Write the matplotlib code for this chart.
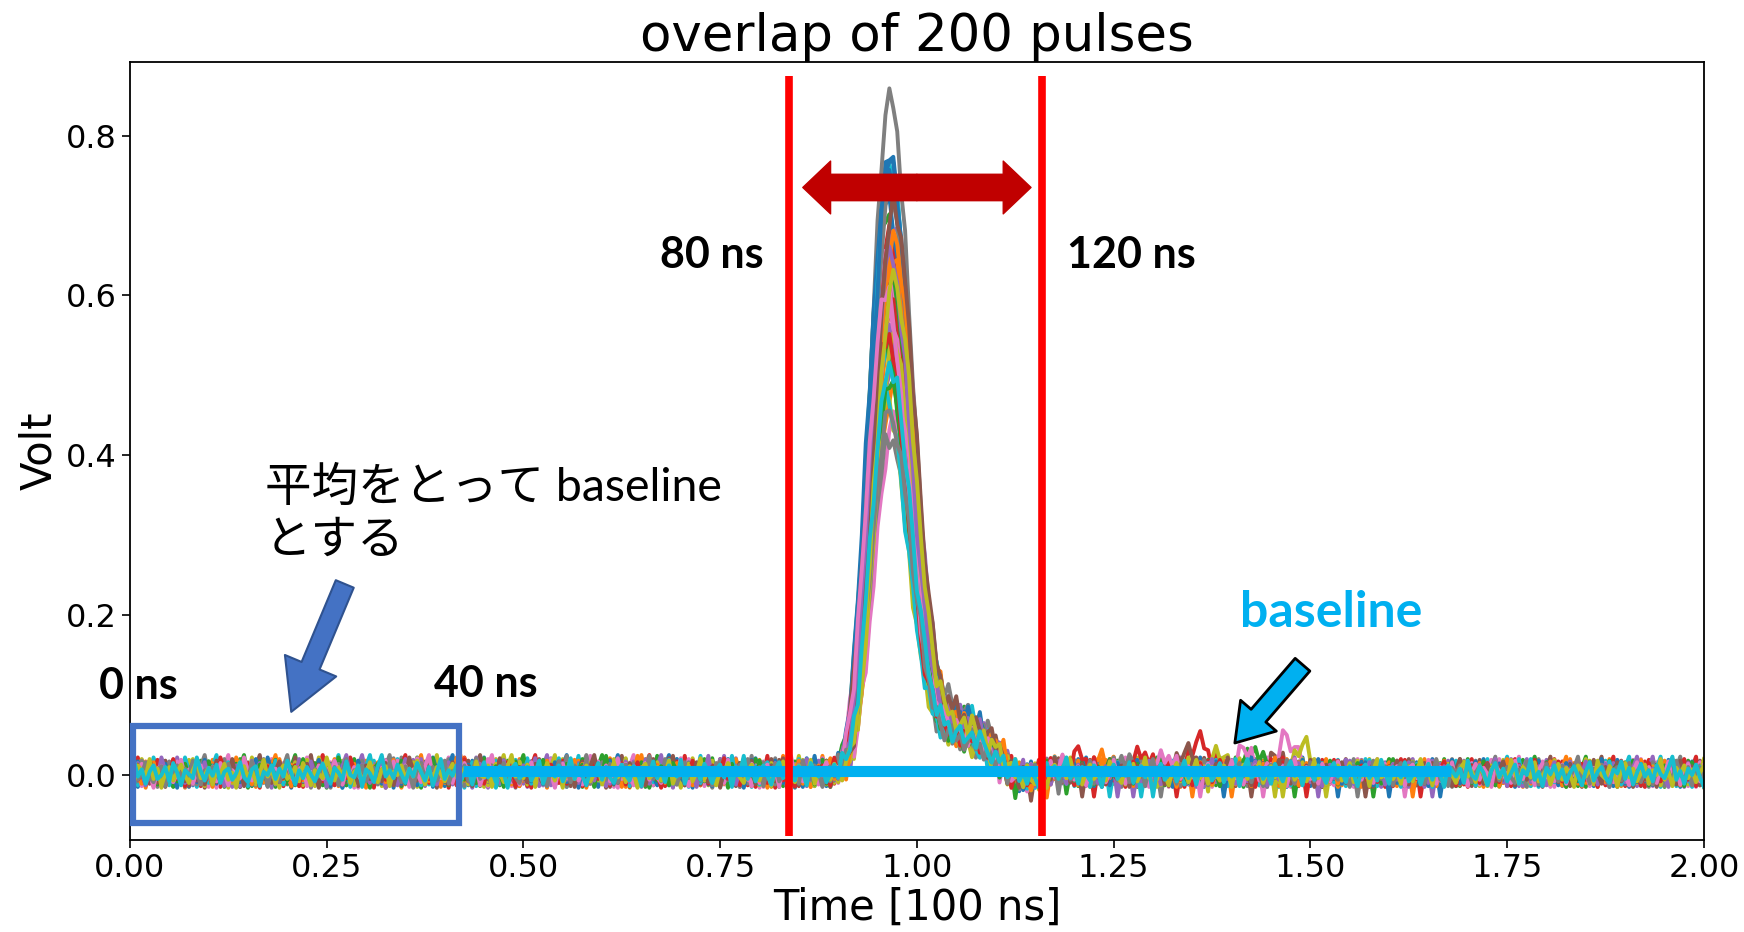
import numpy as np
import matplotlib.pyplot as plt
from matplotlib.patches import Rectangle, FancyArrowPatch

# sampling of the scope traces (time axis in units of 100 ns)
dt = 0.005
n_samples = 401

# normalised pulse template, starting at t = 0.890
pulse_start = 0.890
pulse_shape = [0.0, 0.0, 0.005, 0.015, 0.035, 0.07, 0.125, 0.2, 0.3, 0.42,
               0.55, 0.68, 0.8, 0.9, 0.97, 1.0, 0.985, 0.94, 0.87, 0.78,
               0.68, 0.58, 0.48, 0.39, 0.31, 0.25, 0.2, 0.165, 0.14, 0.125,
               0.115, 0.105, 0.1, 0.095, 0.09, 0.088, 0.085, 0.08, 0.074, 0.067,
               0.06, 0.05, 0.04, 0.03, 0.02, 0.01, 0.0, -0.004, -0.007, -0.009,
               -0.01, -0.009, -0.007, -0.005, -0.002, 0.0, 0.003, 0.006, 0.008, 0.008,
               0.006]

# peak heights [V] and timing jitter [samples] of the drawn pulses
amplitudes = [0.775, 0.60, 0.70, 0.68, 0.52, 0.58, 0.645, 0.85, 0.50, 0.545,
              0.72, 0.485, 0.62, 0.66, 0.56, 0.63, 0.44, 0.42, 0.465, 0.76,
              0.74, 0.64, 0.53, 0.59, 0.69, 0.61, 0.57, 0.73, 0.54, 0.47,
              0.77, 0.67, 0.49, 0.55, 0.65, 0.71, 0.60, 0.45, 0.62, 0.51]
shifts = [0, 1, -1, 0, 1, 0, -1, 0, 1, 0, -1, 1, 0, 0, -1, 1, 1, 0, -1, 0,
          0, 1, -1, 0, 1, -1, 0, 0, 1, -1, 0, 1, 0, -1, 0, 1, -1, 0, 1, 0]

# baseline noise [mV]
noise_mv = [
    4, -6, 9, -3, 12, 2, -9, 5, 14, -2, -11, 7, 1, 16, -5, 3, -13, 8, -1, 10,
    -7, 13, 0, -4, 18, 6, -10, 2, -15, 9, 5, -3, 11, -8, 4, 15, -6, 1, -12, 7,
    3, -9, 12, 6, -2, 20, -5, 8, -14, 2, 10, -7, 4, 13, -1, -10, 6, 17, -4, 0,
    9, -12, 5, 1, 14, -6, 3, -16, 8, 11, -3, 6, -9, 2, 19, -2, 7, -11, 4, 12,
    -5, 0, 10, -8, 15, 3, -13, 6, 1, -4, 22, 5, -7, 9, -1, 13, -10, 4, 8, -6,
    2, 16, -3, -9, 7, 11, -14, 4, 0, 12, -5, 8, -2, 18, 3, -12, 6, -4, 10, 1,
    -8, 5, 14, -1, -11, 9, 3, -6, 17, 0, -3, 12, -15, 7, 2, -9, 11, 25, -2, 6,
    -4, 13, 1, -10, 8, -2, 15, 4, -7, 10, -13, 3, 20, -5, 6, -1, 12, -8, 2, 9,
    -12, 7, 0, 16, -3, 5, -9, 11, 2, -16, 8, 14, -4, 1, 10, -7, 3, 18, -11, 4,
    6, -2, 12, -8, 3, 21, -5, 9, -1, -13, 7, 2, 15, -6, 10, -3, -10, 5, 13, 0,
    -7, 11, 4, -14, 8, 1, 17, -4, 6, -9, 12, 3, -2, 19, -11, 5, 0, 9, -6, 14,
    2, -10, 7, 13, -3, 6, -15, 10, 1, 24, -5, 8, -8, 4, 12, -1, -12, 6, 16, -4,
    9, 0, -7, 11, 3, -13, 15, 5, -2, 8, -9, 1, 13, -6, 20, 2, -4, 10, -14, 7,
    4, 14, -8, 1, 9, -3, 6, -11, 18, 0, -6, 12, 3, -15, 7, 11, -2, 5, -9, 16,
    -1, 8, -12, 4, 13, -5, 2, 10, -7, 17, 6, -3, -10, 9, 1, 14, -8, 3, 22, -4,
    7, -6, 11, 0, -13, 5, 15, -2, 8, -9, 3, 19, -4, 6, -11, 10, 1, -7, 12, 4,
    -15, 9, 2, 13, -5, 7, -1, 16, -10, 4, 11, -3, 8, -27, 5, 14, -6, 1, 10, -8,
    3, 18, -4, 6, -12, 9, 0, 12, -7, 2, 15, -9, 5, -2, 11, -14, 7, 20, -3, 1,
    10, -5, 4, -11, 14, 2, -8, 7, 17, -1, 6, -13, 9, 3, -6, 12, 0, -10, 8, 15,
    -2, 5, -9, 11, 1, -14, 8, 13, -4, 6, -7, 19, 2, -11, 10, 4, -3, 16, -8, 0,
    7, -12, 3, 14, -6, 9, 1, -15, 12, 5, -2, 8, -10, 18, 0, -5, 11, 3, -13, 6,
    15, -3, 8, -8, 2, 13, -11, 6, 0, 20, -6, 4, -14, 9, 1, 12, -4, 7, -9, 3,
    11, -1, -13, 5, 16, -7, 4, 10, -3, -10, 7, 2, 17, -5, 9, -12, 3, 14, -2, 6,
    -8, 12, 1, -4, 9, 23, -6, 5, -11, 8, 0, 13, -3, -15, 6, 10, -7, 2, 15, -1,
    4, -9, 11, 3, -12, 7, 14, -2, 5, -8, 18, 1, -6, 10, -13, 4, 9, -3, 12, 0,
    -5, 13, -10, 6, 2, 16, -4, 8, -14, 3, 11, -7, 1, 19, -2, 5, -9, 12, 6, -3,
]
noise_offsets = [0, 53, 17, 88, 31, 104, 9, 71, 42, 115, 26, 63, 95, 5, 78, 48,
                 112, 21, 59, 84, 13, 100, 37, 67, 2, 91, 45, 118, 29, 76, 55, 7,
                 108, 34, 82, 19, 61, 97, 40, 73]

# small after-pulses seen between 1.2 and 1.5
bump_shape = [0.25, 0.6, 0.9, 1.0, 0.85, 0.6, 0.4, 0.25, 0.12]
afterpulse_trace = [3, 6, 8, 12, 23, 16, 25, 21, 33, 36, 18, 27, 5]
afterpulse_time = [1.345, 1.455, 1.475, 1.415, 1.27, 1.40, 1.33, 1.22, 1.19, 1.30, 1.37, 1.25, 1.44]
afterpulse_height = [0.045, 0.05, 0.035, 0.03, 0.025, 0.03, 0.03, 0.02, 0.025, 0.02, 0.025, 0.02, 0.02]

time = np.arange(n_samples) * dt
noise = np.array(noise_mv) / 1000.0
shape = np.array(pulse_shape)
bump = np.array(bump_shape)
i0 = int(round(pulse_start / dt))

fig, ax = plt.subplots(figsize=(17.44, 9.32), dpi=100)
fig.subplots_adjust(left=0.0745, right=0.977, top=0.9335, bottom=0.099)

for k in range(len(amplitudes)):
    v = noise[noise_offsets[k]:noise_offsets[k] + n_samples].copy()
    s = i0 + shifts[k]
    v[s:s + len(shape)] += amplitudes[k] * shape
    for j in range(len(afterpulse_trace)):
        if afterpulse_trace[j] == k:
            b = int(round(afterpulse_time[j] / dt))
            v[b:b + len(bump)] += afterpulse_height[j] * bump
    ax.plot(time, v, lw=2.8)

ax.set_xlim(0, 2)
ax.set_ylim(-0.081, 0.892)
ax.set_title('overlap of 200 pulses', fontsize=37, pad=6)
ax.set_xlabel('Time [100 ns]', fontsize=30, labelpad=2)
ax.set_ylabel('Volt', fontsize=30)
ax.tick_params(labelsize=23, length=6, width=1.2)
for sp in ax.spines.values():
    sp.set_linewidth(1.3)

# baseline window box
ax.add_patch(Rectangle((0.004, -0.0598), 0.414, 0.121, fill=False,
                       edgecolor='#4472C4', lw=4.5, clip_on=False, zorder=5))
# averaged baseline
ax.plot([0.423, 1.679], [0.0056, 0.0056], color='#00B0F0', lw=8,
        solid_capstyle='butt', zorder=6)
# integration window 80-120 ns
for xv in [0.837, 1.159]:
    ax.plot([xv, xv], [-0.0765, 0.875], color='#FF0000', lw=5.5,
            solid_capstyle='butt', zorder=7)

red_style = 'simple,head_width=38,head_length=20,tail_width=19'
for xe in [0.855, 1.145]:
    ax.add_patch(FancyArrowPatch((1.0, 0.735), (xe, 0.735), arrowstyle=red_style,
                                 color='#C00000', shrinkA=0, shrinkB=0, zorder=8))

ax.add_patch(FancyArrowPatch((0.273, 0.239), (0.205, 0.079),
                             arrowstyle='simple,head_width=40,head_length=36,tail_width=14',
                             facecolor='#4472C4', edgecolor='#2F528F', lw=1.5,
                             shrinkA=0, shrinkB=0, zorder=8))
ax.add_patch(FancyArrowPatch((1.49, 0.138), (1.404, 0.040),
                             arrowstyle='simple,head_width=34,head_length=26,tail_width=14',
                             facecolor='#00B0F0', edgecolor='black', lw=2,
                             shrinkA=0, shrinkB=0, zorder=8))

bold = dict(fontweight='bold', family=['Lato', 'DejaVu Sans'],
            ha='center', va='center', zorder=9)
ax.text(0.739, 0.65, '80 ns', fontsize=31, **bold)
ax.text(1.273, 0.65, '120 ns', fontsize=31, **bold)
ax.text(0.011, 0.111, '0 ns', fontsize=31, **bold)
ax.text(0.452, 0.114, '40 ns', fontsize=31, **bold)
ax.text(1.527, 0.203, 'baseline', color='#00B0F0', fontsize=36, **bold)

ax.text(0.171, 0.327, '平均をとって baseline\nとする', fontsize=33.5,
        family=['Lato', 'Noto Sans CJK JP'], ha='left', va='center',
        linespacing=1.3, zorder=9)

fig.savefig('out.png', dpi=100)
